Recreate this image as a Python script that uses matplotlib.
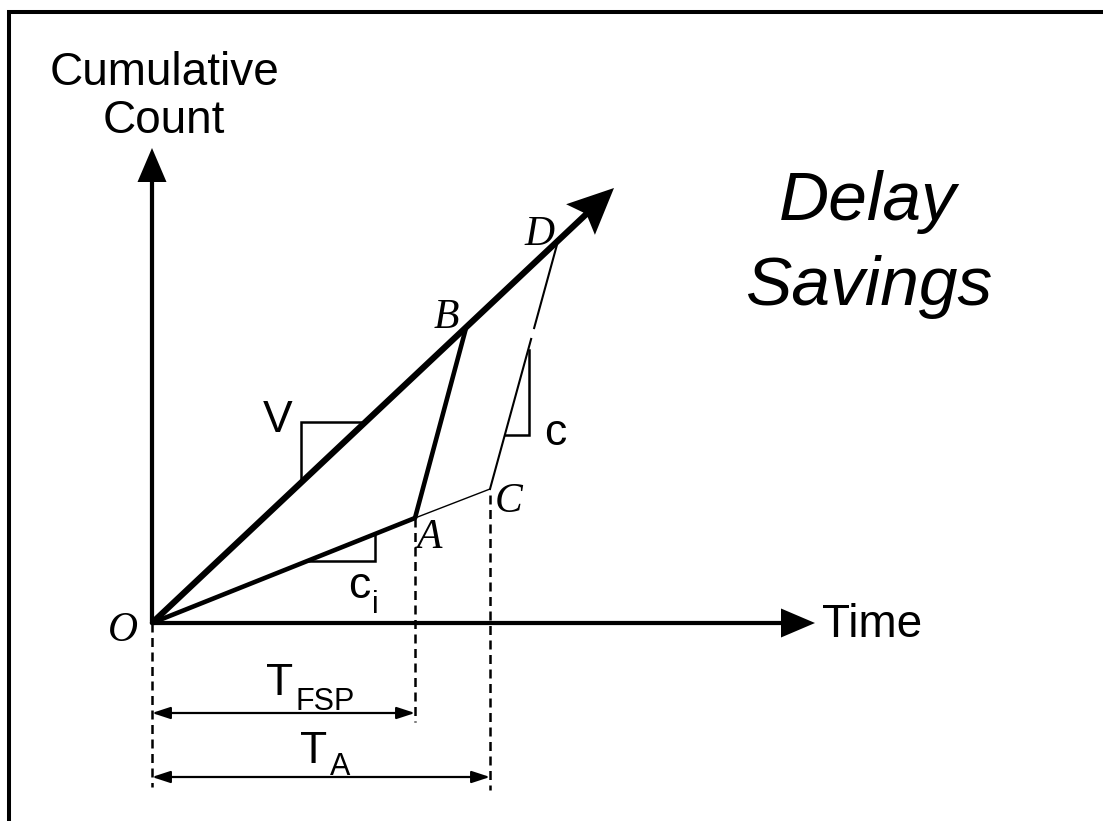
import matplotlib
matplotlib.use("Agg")
import matplotlib.pyplot as plt
import numpy as np

plt.rcParams["font.family"] = ["Liberation Sans", "DejaVu Sans"]

# key points of the diagram (time, cumulative count)
point_names = ["O", "A", "B", "C", "D"]
point_t = [0.0, 26.3, 31.4, 33.8, 40.6]
point_n = [0.0, 10.5, 29.5, 13.4, 38.2]

# arrival (V) line tip and axis ends
v_tip = [46.2, 43.5]
time_end = 66.3
count_end = 47.5

# gap in the C-D line (fraction along the segment)
cd_gap = [0.605, 0.649]

# slope markers: list of (t, n) corners
tri_v = [[14.9, 14.3], [14.9, 20.1], [21.1, 20.1]]
tri_ci = [[15.6, 6.2], [22.3, 6.2], [22.3, 8.9]]
tri_c = [[35.28, 18.8], [37.7, 18.8], [37.7, 27.3]]

# dimension arrows
t_fsp_row = -9.0
t_a_row = -15.4

P = {k: np.array([t, n]) for k, t, n in zip(point_names, point_t, point_n)}

fig = plt.figure(figsize=(11.03, 8.21), dpi=100)
ax = fig.add_axes([0, 0, 1, 1])
ax.set_xlim(-15.2, 95.1)
ax.set_ylim(-19.8, 62.3)
ax.axis("off")

# frame (top and left only)
ax.plot([-14.3, -14.3, 95.5], [-20, 61.1, 61.1], color="k", lw=2.9,
        solid_joinstyle="miter", clip_on=False)

# axes arrows
ax.arrow(0, 0, 0, count_end, width=0.42, head_width=2.9, head_length=3.4,
         length_includes_head=True, color="k", lw=0)
ax.arrow(0, 0, time_end, 0, width=0.42, head_width=2.9, head_length=3.4,
         length_includes_head=True, color="k", lw=0)

# V line
ax.arrow(0, 0, v_tip[0], v_tip[1], width=0.62, head_width=4.2, head_length=4.6,
         overhang=0.15, length_includes_head=True, color="k", lw=0)

# O-A and A-B
ax.plot([P["O"][0], P["A"][0]], [P["O"][1], P["A"][1]], color="k", lw=3.3,
        solid_capstyle="round")
ax.plot([P["A"][0], P["B"][0]], [P["A"][1], P["B"][1]], color="k", lw=3.3,
        solid_capstyle="butt")
# A-C thin
ax.plot([P["A"][0], P["C"][0]], [P["A"][1], P["C"][1]], color="k", lw=1.0)
# C-D with a gap
g1 = P["C"] + cd_gap[0] * (P["D"] - P["C"])
g2 = P["C"] + cd_gap[1] * (P["D"] - P["C"])
ax.plot([P["C"][0], g1[0]], [P["C"][1], g1[1]], color="k", lw=1.5)
ax.plot([g2[0], P["D"][0]], [g2[1], P["D"][1]], color="k", lw=1.5)

# slope triangles
for tri in (tri_v, tri_ci, tri_c):
    tri = np.array(tri)
    ax.plot(tri[:, 0], tri[:, 1], color="k", lw=1.8, solid_joinstyle="miter")

# dashed verticals
dash = (0, (3.6, 2.2))
ax.plot([0, 0], [0, -16.4], color="k", lw=1.8, linestyle=dash)
ax.plot([P["A"][0], P["A"][0]], [P["A"][1], -9.9], color="k", lw=1.8, linestyle=dash)
ax.plot([P["C"][0], P["C"][0]], [P["C"][1] - 0.6, -16.7], color="k", lw=1.8, linestyle=dash)

# dimension arrows
arrow_kw = dict(arrowstyle="<|-|>,head_length=0.55,head_width=0.18",
                mutation_scale=20, color="k", lw=1.6, shrinkA=0, shrinkB=0)
ax.annotate("", xy=(P["A"][0], t_fsp_row), xytext=(0, t_fsp_row), arrowprops=arrow_kw)
ax.annotate("", xy=(P["C"][0], t_a_row), xytext=(0, t_a_row), arrowprops=arrow_kw)

# labels
ax.text(1.2, 53.8, "Cumulative", fontsize=33, ha="center", va="baseline")
ax.text(1.2, 49.0, "Count", fontsize=33, ha="center", va="baseline")
ax.text(67.0, -1.4, "Time", fontsize=33, ha="left", va="baseline")
ax.text(71.6, 40.3, "Delay", fontsize=50, style="italic", ha="center", va="baseline")
ax.text(71.7, 31.8, "Savings", fontsize=50, style="italic", ha="center", va="baseline")

ax.text(12.6, 19.1, "V", fontsize=32, ha="center", va="baseline")
ax.text(40.3, 17.8, "c", fontsize=32, ha="center", va="baseline")
ax.text(19.6, 2.5, "c", fontsize=32, ha="left", va="baseline")
ax.text(22.0, 1.0, "i", fontsize=22, ha="left", va="baseline")
ax.text(11.4, -7.2, "T", fontsize=32, ha="left", va="baseline")
ax.text(14.4, -8.7, "FSP", fontsize=22, ha="left", va="baseline")
ax.text(14.8, -14.0, "T", fontsize=32, ha="left", va="baseline")
ax.text(17.8, -15.2, "A", fontsize=22, ha="left", va="baseline")

serif = dict(family=["Liberation Serif", "DejaVu Serif"], style="italic",
             fontsize=30, ha="center", va="baseline")
letter_pos = {"O": (-2.9, -1.8), "A": (27.7, 7.5), "B": (29.4, 29.5),
              "C": (35.7, 11.1), "D": (38.7, 37.8)}
for name in point_names:
    ax.text(letter_pos[name][0], letter_pos[name][1], name, **serif)

fig.savefig("out.png", dpi=100, facecolor="white")
